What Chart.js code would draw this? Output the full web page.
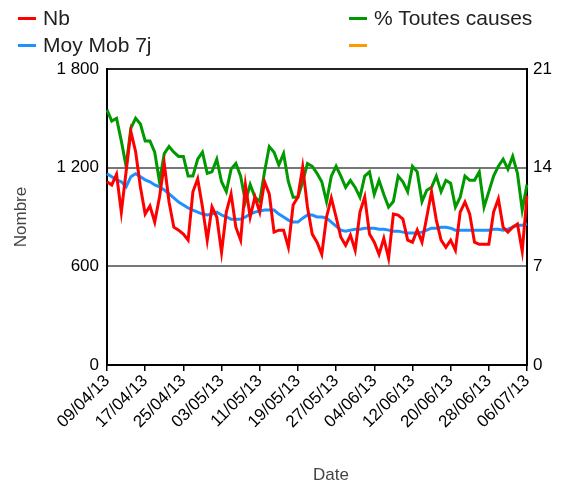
<!DOCTYPE html>
<html>
<head>
<meta charset="utf-8">
<script src="https://cdn.jsdelivr.net/npm/chart.js@4/dist/chart.umd.min.js"></script>
<style>
  html, body { margin: 0; padding: 0; background: #fff; }
  #wrap { position: relative; width: 574px; height: 487px; font-family: "Liberation Sans", Arial, sans-serif; }
  #chart { position: absolute; left: 0; top: 0; }
  .leg { position: absolute; font-size: 21px; color: #222; line-height: 24px; }
  .leg span { display: inline-block; width: 18px; height: 3px; vertical-align: middle; margin-right: 7px; position: relative; top: -1px; }
  #xtitle { position: absolute; left: 313px; top: 465px; font-size: 17px; color: #444; }
</style>
</head>
<body>
<div id="wrap">
  <canvas id="chart" width="574" height="487"></canvas>
  <div class="leg" style="left:18px; top:6px;"><span style="background:#ff0000"></span>Nb</div>
  <div class="leg" style="left:18px; top:33px;"><span style="background:#1e90ff"></span>Moy Mob 7j</div>
  <div class="leg" style="left:349px; top:6px;"><span style="background:#009900"></span>% Toutes causes</div>
  <div class="leg" style="left:349px; top:33px;"><span style="background:#ff9900"></span></div>
  <div id="xtitle">Date</div>
</div>
<script>
// dates, 09/04/13 -> 06/07/13
const dates = [
  '09/04/13','10/04/13','11/04/13','12/04/13','13/04/13','14/04/13','15/04/13','16/04/13',
  '17/04/13','18/04/13','19/04/13','20/04/13','21/04/13','22/04/13','23/04/13','24/04/13',
  '25/04/13','26/04/13','27/04/13','28/04/13','29/04/13','30/04/13','01/05/13','02/05/13',
  '03/05/13','04/05/13','05/05/13','06/05/13','07/05/13','08/05/13','09/05/13','10/05/13',
  '11/05/13','12/05/13','13/05/13','14/05/13','15/05/13','16/05/13','17/05/13','18/05/13',
  '19/05/13','20/05/13','21/05/13','22/05/13','23/05/13','24/05/13','25/05/13','26/05/13',
  '27/05/13','28/05/13','29/05/13','30/05/13','31/05/13','01/06/13','02/06/13','03/06/13',
  '04/06/13','05/06/13','06/06/13','07/06/13','08/06/13','09/06/13','10/06/13','11/06/13',
  '12/06/13','13/06/13','14/06/13','15/06/13','16/06/13','17/06/13','18/06/13','19/06/13',
  '20/06/13','21/06/13','22/06/13','23/06/13','24/06/13','25/06/13','26/06/13','27/06/13',
  '28/06/13','29/06/13','30/06/13','01/07/13','02/07/13','03/07/13','04/07/13','05/07/13',
  '06/07/13'
];

const nb = [
  1114, 1095, 1160, 930, 1175, 1420, 1297, 1083,
  918, 967, 869, 1022, 1224, 991, 838, 820,
  796, 759, 1053, 1132, 961, 759, 961, 900,
  685, 930, 1040, 838, 759, 1095, 900, 1022,
  930, 1114, 1040, 808, 820, 820, 716, 973,
  1022, 1205, 961, 796, 747, 673, 900, 1016,
  900, 777, 728, 790, 698, 930, 1022, 796,
  747, 673, 771, 649, 918, 912, 887, 759,
  747, 820, 747, 900, 1053, 881, 759, 716,
  759, 698, 930, 991, 918, 747, 734, 734,
  734, 930, 1010, 838, 808, 838, 857, 692,
  1030
];

const moyMob = [
  1163, 1145, 1126, 1114, 1083, 1145, 1163, 1145,
  1126, 1114, 1095, 1083, 1065, 1040, 1016, 991,
  973, 955, 942, 930, 918, 912, 918, 930,
  912, 900, 887, 887, 887, 900, 918, 930,
  936, 942, 942, 942, 918, 900, 881, 869,
  869, 893, 912, 912, 900, 900, 893, 869,
  845, 820, 814, 820, 826, 826, 832, 832,
  832, 826, 826, 820, 814, 814, 808, 802,
  802, 802, 808, 820, 832, 832, 838, 838,
  832, 820, 820, 820, 820, 820, 820, 820,
  820, 826, 826, 820, 826, 838, 850, 850,
  857
];

const pctToutes = [
  18.1, 17.3, 17.5, 15.9, 14.1, 16.8, 17.5, 17.1,
  15.9, 15.9, 15.1, 13.0, 15.0, 15.5, 15.1, 14.8,
  14.8, 13.4, 13.4, 14.6, 15.1, 13.6, 13.7, 14.6,
  13.0, 12.3, 13.9, 14.3, 13.4, 11.6, 12.8, 11.9,
  11.6, 13.7, 15.5, 15.1, 14.2, 15.0, 13.0, 11.9,
  11.9, 13.0, 14.3, 14.1, 13.6, 13.0, 11.6, 13.4,
  14.1, 13.4, 12.6, 13.1, 12.6, 11.9, 13.4, 13.7,
  12.1, 13.1, 12.1, 11.2, 11.6, 13.4, 13.0, 12.3,
  14.1, 13.7, 11.6, 12.4, 12.6, 13.4, 12.3, 13.1,
  12.9, 11.2, 11.9, 13.4, 13.1, 13.1, 13.7, 11.2,
  12.3, 13.4, 14.1, 14.6, 13.9, 14.8, 13.6, 11.0,
  12.8
];

const fourth = dates.map(() => null);

const leftTicks = [0, 600, 1200, 1800];
const rightTicks = [0, 7, 14, 21];

function fmtNumber(v) {
  return String(v).replace(/\B(?=(\d{3})+(?!\d))/g, ' ');
}

const font = { family: '"Liberation Sans", Arial, sans-serif', size: 17 };

new Chart(document.getElementById('chart'), {
  type: 'line',
  data: {
    labels: dates,
    datasets: [
      { label: 'Nb', data: nb, yAxisID: 'y', borderColor: '#ff0000', borderWidth: 3, pointRadius: 0, tension: 0 },
      { label: 'Moy Mob 7j', data: moyMob, yAxisID: 'y', borderColor: '#1e90ff', borderWidth: 3, pointRadius: 0, tension: 0 },
      { label: '% Toutes causes', data: pctToutes, yAxisID: 'y2', borderColor: '#009900', borderWidth: 3, pointRadius: 0, tension: 0 },
      { label: '', data: fourth, yAxisID: 'y2', borderColor: '#ff9900', borderWidth: 3, pointRadius: 0 }
    ]
  },
  options: {
    responsive: false,
    animation: false,
    layout: { padding: { top: 69, left: 0, right: 0, bottom: 0 } },
    plugins: {
      legend: { display: false },
      tooltip: { enabled: false }
    },
    scales: {
      x: {
        offset: false,
        afterFit: (s) => { s.height = 122; },
        border: { color: '#000', width: 2 },
        grid: { drawOnChartArea: false, color: '#000', lineWidth: 1.5, tickLength: 6 },
        ticks: {
          autoSkip: false,
          maxRotation: 45,
          minRotation: 45,
          color: '#000',
          font: font,
          padding: 0,
          callback: function (val, i) { return i % 8 === 0 ? dates[i] : null; }
        }
      },
      y: {
        position: 'left',
        min: 0,
        max: 1800,
        afterFit: (s) => { s.width = 107; },
        afterBuildTicks: (s) => { s.ticks = leftTicks.map(v => ({ value: v })); },
        border: { color: '#000', width: 2 },
        grid: {
          color: (c) => (c.tick.value === 1800 ? '#222' : '#777'),
          lineWidth: (c) => (c.tick.value === 0 ? 0 : 2),
          drawTicks: false
        },
        ticks: { color: '#000', font: font, padding: 8, callback: (v) => fmtNumber(v) },
        title: { display: true, text: 'Nombre', color: '#444', font: font, padding: { top: 11, bottom: 0 } }
      },
      y2: {
        position: 'right',
        min: 0,
        max: 21,
        afterFit: (s) => { s.width = 47; },
        afterBuildTicks: (s) => { s.ticks = rightTicks.map(v => ({ value: v })); },
        border: { color: '#000', width: 2 },
        grid: { drawOnChartArea: false, drawTicks: false },
        ticks: { color: '#000', font: font, padding: 6 }
      }
    }
  }
});
</script>
</body>
</html>
